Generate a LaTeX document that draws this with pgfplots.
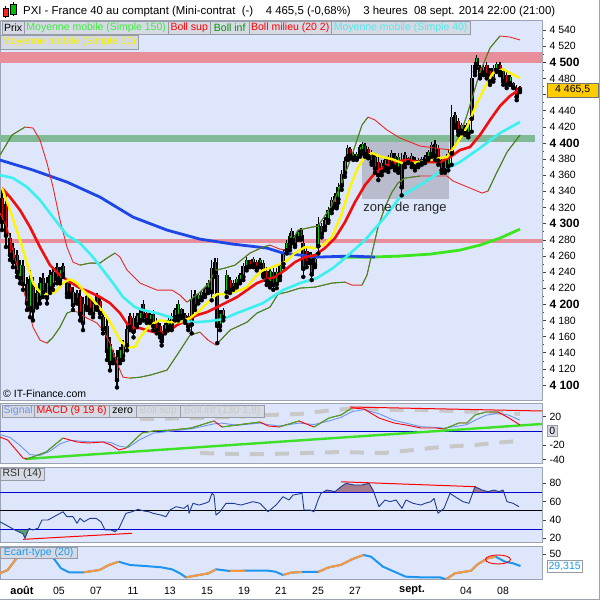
\documentclass[border=0pt]{standalone}
\usepackage{fontspec}
\setmainfont{Liberation Sans}
\usepackage{pgfplots}
\pgfplotsset{compat=1.18}
\usepackage{pgfplotstable}
\definecolor{bgblue}{RGB}{221,230,250}
\definecolor{pinkband}{RGB}{232,142,155}
\definecolor{greenband}{RGB}{128,186,150}
\definecolor{zonegray}{RGB}{184,188,204}
\definecolor{mablue}{RGB}{30,70,230}
\definecolor{magreen}{RGB}{60,230,30}
\definecolor{macyan}{RGB}{60,240,240}
\definecolor{mayellow}{RGB}{255,245,0}
\definecolor{mared}{RGB}{240,15,15}
\definecolor{bandred}{RGB}{235,40,40}
\definecolor{bandgreen}{RGB}{40,150,30}
\definecolor{cgreen}{RGB}{0,210,0}
\definecolor{cred}{RGB}{230,0,0}
\definecolor{frame}{RGB}{155,163,178}
\definecolor{sigblue}{RGB}{110,150,240}
\definecolor{rsiblue}{RGB}{30,60,150}
\definecolor{ecblue}{RGB}{30,150,240}
\definecolor{ecorange}{RGB}{250,150,60}
\definecolor{mauve}{RGB}{165,125,140}
\definecolor{rsigreen}{RGB}{95,160,110}
\definecolor{legfill}{RGB}{214,218,228}
\definecolor{legdraw}{RGB}{150,155,165}
\definecolor{gold}{RGB}{255,204,0}
\definecolor{dashgray}{RGB}{200,200,200}
\definecolor{trendgreen}{RGB}{60,225,40}
\definecolor{mgreen}{RGB}{40,190,40}

\pgfplotstableread{
x h l bt bb d
2 4342 4292 4332 4302 0
6 4338 4271 4324 4285 0
10 4288 4255 4282 4261 0
13 4276 4246 4270 4252 0
17 4267 4234 4261 4240 0
20 4255 4226 4249 4232 1
23 4255 4218 4247 4225 0
27 4234 4193 4225 4201 0
30 4242 4184 4231 4195 1
33 4234 4180 4222 4192 0
37 4218 4196 4214 4200 1
40 4234 4201 4227 4208 1
43 4239 4209 4232 4215 0
47 4234 4201 4227 4208 1
50 4242 4214 4236 4220 1
53 4246 4218 4240 4224 1
57 4251 4226 4246 4231 0
60 4246 4226 4242 4230 1
63 4251 4234 4247 4237 0
67 4230 4209 4226 4213 0
70 4226 4209 4222 4213 0
73 4221 4193 4215 4199 1
77 4218 4201 4214 4205 0
80 4218 4180 4210 4188 0
83 4209 4168 4200 4177 1
87 4214 4193 4210 4196 1
90 4209 4189 4205 4193 0
93 4205 4184 4201 4188 1
97 4214 4193 4210 4196 0
100 4209 4184 4204 4189 0
103 4189 4164 4184 4169 0
107 4184 4131 4173 4142 0
110 4159 4118 4151 4127 1
113 4143 4127 4140 4131 0
117 4143 4097 4135 4106 1
120 4147 4127 4143 4131 1
123 4156 4131 4151 4136 1
127 4177 4143 4170 4149 1
130 4189 4168 4185 4172 0
133.5 4189 4159 4183 4166 1
137 4189 4172 4185 4175 1
140 4193 4177 4189 4180 1
143.3 4205 4180 4200 4185 0
146.7 4193 4177 4189 4180 0
150 4189 4177 4187 4179 1
153.3 4193 4168 4188 4173 0
156.7 4183 4164 4179 4168 0
160 4177 4159 4173 4163 0
161.7 4172 4149 4167 4154 1
165 4177 4164 4174 4167 1
168.3 4184 4168 4180 4172 1
171.7 4189 4168 4185 4172 1
175 4196 4180 4193 4184 1
178.3 4205 4180 4200 4185 1
181.7 4196 4183 4194 4185 0
185 4189 4177 4187 4179 0
188.3 4189 4168 4185 4172 0
191.7 4218 4164 4206 4175 1
195 4218 4193 4213 4198 0
198.3 4214 4201 4211 4204 1
201.7 4218 4205 4215 4208 1
205 4221 4209 4219 4211 1
208.3 4230 4214 4226 4218 1
211.7 4255 4205 4245 4215 1
215 4257 4234 4252 4239 0
217.3 4257 4152 4236 4173 0
220 4193 4168 4188 4173 1
223.3 4196 4180 4193 4184 1
226.7 4242 4209 4236 4215 1
230 4234 4214 4230 4218 0
233.3 4230 4218 4227 4220 0
236.7 4234 4221 4231 4224 1
240 4239 4226 4236 4229 1
243.3 4251 4230 4247 4234 1
246.7 4259 4242 4255 4246 1
250 4255 4246 4254 4247 0
253.3 4259 4246 4256 4249 1
256.7 4255 4242 4252 4245 0
260 4257 4246 4255 4249 1
263.3 4255 4234 4251 4237 0
266.7 4246 4224 4241 4229 0
270 4246 4221 4241 4226 1
273.3 4246 4218 4240 4224 0
276.7 4245 4220 4240 4225 1
280 4251 4230 4247 4234 1
283.3 4267 4246 4263 4250 1
286.7 4280 4263 4276 4267 1
290 4288 4267 4285 4271 1
291.7 4294 4276 4291 4280 1
295 4286 4271 4283 4273 0
298.3 4292 4280 4290 4282 1
301 4294 4280 4292 4282 0
303.3 4286 4234 4276 4244 0
306.7 4271 4246 4266 4251 0
310 4265 4251 4262 4254 1
311.7 4265 4230 4257 4237 0
315 4259 4246 4256 4249 1
318.3 4308 4263 4299 4272 1
321.7 4301 4283 4297 4287 0
325 4308 4292 4304 4296 1
328.3 4320 4301 4317 4304 1
331.7 4333 4313 4329 4317 1
335 4338 4320 4334 4324 1
336.7 4333 4319 4330 4322 0
338.3 4350 4326 4345 4330 1
341.7 4366 4342 4361 4347 1
345 4383 4358 4378 4363 1
347.7 4397 4379 4394 4383 1
350 4395 4381 4392 4384 0
353.3 4389 4379 4386 4381 0
356.7 4389 4379 4386 4381 1
360 4397 4383 4395 4385 1
362.3 4401 4387 4399 4390 1
365 4400 4383 4396 4386 0
368.3 4395 4381 4392 4384 0
371.7 4391 4373 4387 4376 0
375 4387 4363 4383 4368 0
378.3 4383 4354 4376 4360 0
381.7 4379 4360 4375 4364 1
385 4383 4366 4379 4370 1
388.3 4385 4364 4381 4368 0
391.7 4391 4370 4387 4374 1
395 4387 4366 4384 4370 0
398.3 4387 4363 4383 4368 1
401.7 4387 4335 4378 4345 0
405 4389 4370 4385 4374 1
408.3 4383 4375 4381 4376 0
411.7 4387 4370 4384 4374 1
415 4383 4366 4379 4370 0
418.3 4381 4370 4379 4373 1
421.7 4383 4373 4380 4375 0
425 4385 4375 4383 4378 1
428.3 4391 4379 4389 4381 1
431.7 4401 4383 4397 4386 1
435 4404 4379 4399 4384 0
438.3 4397 4373 4392 4378 0
441.7 4383 4363 4379 4366 0
445 4383 4363 4379 4366 1
448.3 4391 4366 4386 4371 1
451.7 4447 4373 4432 4387 1
455 4438 4419 4435 4422 0
458.3 4431 4410 4427 4414 0
461.7 4425 4412 4422 4415 1
465 4422 4410 4420 4412 0
468.3 4428 4407 4425 4411 1
471.7 4497 4414 4480 4430 1
475 4500 4484 4497 4488 0
476.7 4509 4493 4505 4497 1
480 4497 4480 4493 4484 0
483.3 4497 4484 4494 4487 1
486.7 4500 4480 4497 4484 0
490 4493 4472 4489 4476 0
493.3 4497 4476 4493 4479 1
496.7 4500 4488 4498 4490 1
500 4500 4484 4497 4488 0
503.3 4493 4472 4489 4476 0
506.7 4488 4468 4484 4472 0
510 4484 4472 4482 4474 1
513.3 4476 4468 4474 4469 0
516.7 4472 4453 4468 4457 0
520 4470 4463 4469 4465.5 0
}\candles

\pgfplotsset{
  panel/.style={
    scale only axis, width=542pt, xmin=0, xmax=542,
    axis background/.style={fill=bgblue},
    axis line style={draw=frame, line width=0.8pt},
    xtick=\empty,
    yticklabel pos=right, ytick pos=right,
    tick align=outside, major tick length=4pt,
    tick style={draw=black!75, line width=0.5pt},
    yticklabel style={font=\fontsize{10.5}{12}\selectfont, anchor=west, text=black},
    clip=true,
  },
  candle/.style={only marks, mark=none, forget plot},
}
\tikzset{leg/.style={draw=legdraw, fill=legfill, inner sep=0pt, anchor=west, font=\fontsize{10.5}{12}\selectfont}}

\begin{document}
\begin{tikzpicture}[x=1pt,y=1pt]
\useasboundingbox (0,0) rectangle (600,600);
\fill[white] (0,0) rectangle (600,600);

% ================= MAIN PANEL =================
\begin{axis}[panel, at={(0pt,580pt)}, anchor=north west, height=380pt,
  ymin=4081.4, ymax=4552.4,
  ytick={4100,4120,...,4540},
  minor y tick num=1, minor tick length=2pt,
  yticklabels={{\fontsize{12}{14}\selectfont\bfseries 4 100},4 120,4 140,4 160,4 180,{\fontsize{12}{14}\selectfont\bfseries 4 200},4 220,4 240,4 260,4 280,{\fontsize{12}{14}\selectfont\bfseries 4 300},4 320,4 340,4 360,4 380,{\fontsize{12}{14}\selectfont\bfseries 4 400},4 420,4 440,{},4 480,{\fontsize{12}{14}\selectfont\bfseries 4 500},4 520,4 540},
]
\addplot[fill=pinkband, draw=none] coordinates {(0,4498.7) (542,4498.7) (542,4513.1) (0,4513.1)} -- cycle;
\addplot[fill=greenband, draw=none] coordinates {(0,4401.5) (535,4401.5) (535,4409.9) (0,4409.9)} -- cycle;
\addplot[fill=pinkband, draw=none] coordinates {(0,4275.6) (542,4275.6) (542,4280.6) (0,4280.6)} -- cycle;
\addplot[fill=zonegray, draw=none] coordinates {(362,4330.5) (449,4330.5) (449,4401.2) (362,4401.2)} -- cycle;

% candles: wicks, bodies, coloured cores
\addplot[candle, error bars/.cd, y dir=plus, y explicit, error mark=none,
  error bar style={draw=black, line width=1.4pt}]
  table[x=x, y=l, y error plus expr={\thisrow{h}-\thisrow{l}}] {\candles};
\addplot[candle, error bars/.cd, y dir=plus, y explicit, error mark=none,
  error bar style={draw=black, line width=4pt}]
  table[x=x, y=bb, y error plus expr={\thisrow{bt}-\thisrow{bb}}] {\candles};
\addplot[candle, restrict expr to domain={\thisrow{d}}{0.5:1.5}, error bars/.cd, y dir=plus, y explicit, error mark=none,
  error bar style={draw=cgreen, line width=0.9pt}]
  table[x=x, y=bb, y error plus expr={\thisrow{bt}-\thisrow{bb}}] {\candles};
\addplot[candle, restrict expr to domain={\thisrow{d}}{-0.5:0.5}, error bars/.cd, y dir=plus, y explicit, error mark=none,
  error bar style={draw=cred, line width=0.9pt}]
  table[x=x, y=bb, y error plus expr={\thisrow{bt}-\thisrow{bb}}] {\candles};

% MA 150 (green rising part, blue falling part)
\addplot[magreen, line width=2.8pt] coordinates {(340,4258.5) (370,4258.5) (400,4259.8) (430,4262.2) (460,4267.2) (480,4273.4) (500,4282.1) (520,4293.2)};
\addplot[mablue, line width=2.8pt, line join=round] coordinates {(0,4378.8) (33,4366.4) (67,4351.5) (100,4332.9) (133,4308.1) (167,4292.0) (200,4280.8) (233,4274.6) (267,4269.7) (283,4263.5) (317,4258.5) (350,4259.8) (375,4258.5)};

% Boll sup
\addplot[bandred, line width=0.9pt, line join=round] coordinates {(0,4385.0) (12,4409.8) (25,4419.7) (33,4418.5) (40,4403.6) (47,4375.1) (53,4345.3) (60,4304.4) (67,4270.9) (73,4252.3) (80,4248.6) (90,4251.1) (100,4251.1) (107,4257.3) (115,4263.5) (120,4258.5) (127,4242.4) (140,4226.3) (157,4217.6) (172,4217.6) (180,4211.4) (187,4202.7) (199,4213.9) (208,4225.0) (216,4242.4) (225,4244.9) (235,4248.6) (250,4263.5) (263,4270.9) (270,4273.4) (280,4268.4) (287,4267.2) (298,4292.0) (312,4295.7) (318,4297.0) (332,4323.0) (342,4350.3) (352,4385.0) (362,4422.2) (368,4432.1) (375,4428.4) (387,4416.0) (400,4406.1) (420,4396.2) (443,4392.4) (452,4391.2) (460,4409.8) (467,4434.6) (480,4487.9) (490,4517.7) (500,4532.6) (510,4531.3) (520,4527.6)};
\addplot[bandgreen, line width=0.9pt] coordinates {(0,4385.0) (12,4409.8) (25,4419.7)};
\addplot[bandgreen, line width=0.9pt] coordinates {(80,4248.6) (90,4251.1) (100,4251.1) (107,4257.3) (115,4263.5)};
\addplot[bandgreen, line width=0.9pt] coordinates {(187,4202.7) (199,4213.9) (208,4225.0) (216,4242.4) (225,4244.9) (235,4248.6) (250,4263.5) (263,4270.9) (270,4273.4)};
\addplot[bandgreen, line width=0.9pt] coordinates {(287,4267.2) (298,4292.0) (312,4295.7) (318,4297.0) (332,4323.0) (342,4350.3) (352,4385.0) (362,4422.2) (368,4432.1)};
\addplot[bandgreen, line width=0.9pt] coordinates {(452,4391.2) (460,4409.8) (467,4434.6) (480,4487.9) (490,4517.7) (500,4532.6)};

% Boll inf
\addplot[bandred, line width=0.9pt, line join=round] coordinates {(0,4313.1) (7,4295.7) (20,4233.7) (27,4201.5) (33,4171.7) (40,4155.6) (47,4151.9) (53,4159.3) (60,4171.7) (67,4189.1) (72,4191.6) (78,4190.3) (87,4182.9) (97,4176.7) (103,4168.0) (110,4151.9) (117,4127.1) (123,4109.7) (130,4108.5) (140,4109.7) (150,4112.2) (167,4118.4) (177,4137.0) (190,4161.8) (200,4165.5) (208,4155.6) (216,4149.4) (230,4168.0) (247,4177.9) (257,4189.1) (270,4196.5) (278,4212.6) (287,4215.1) (300,4220.1) (315,4221.3) (332,4226.3) (345,4227.5) (352,4223.8) (362,4223.8) (367,4236.2) (372,4263.5) (378,4295.7) (385,4320.5) (392,4339.1) (398,4350.3) (405,4356.5) (420,4359.0) (447,4359.0) (453,4352.8) (470,4344.1) (482,4337.9) (488,4340.4) (497,4364.0) (507,4388.7) (520,4409.8)};
\addplot[bandgreen, line width=0.9pt] coordinates {(47,4151.9) (53,4159.3) (60,4171.7) (67,4189.1) (72,4191.6)};
\addplot[bandgreen, line width=0.9pt] coordinates {(130,4108.5) (140,4109.7) (150,4112.2) (167,4118.4) (177,4137.0) (190,4161.8) (200,4165.5)};
\addplot[bandgreen, line width=0.9pt] coordinates {(216,4149.4) (230,4168.0) (247,4177.9) (257,4189.1) (270,4196.5) (278,4212.6) (287,4215.1) (300,4220.1) (315,4221.3) (332,4226.3) (345,4227.5)};
\addplot[bandgreen, line width=0.9pt] coordinates {(362,4223.8) (367,4236.2) (372,4263.5) (378,4295.7) (385,4320.5) (392,4339.1) (398,4350.3) (405,4356.5) (420,4359.0)};
\addplot[bandgreen, line width=0.9pt] coordinates {(488,4340.4) (497,4364.0) (507,4388.7) (520,4409.8)};

% Boll milieu (20 2)
\addplot[mared, line width=2.6pt, line join=round] coordinates {(2,4344.1) (10,4332.9) (20,4316.8) (30,4295.7) (40,4270.9) (50,4248.6) (60,4236.2) (70,4227.5) (80,4220.1) (90,4215.1) (100,4209.0) (110,4201.5) (120,4189.1) (128,4174.2) (135,4170.5) (140,4170.5) (150,4166.8) (160,4164.3) (167,4165.5) (177,4174.2) (187,4180.4) (197,4186.6) (207,4190.3) (217,4196.5) (227,4202.7) (237,4209.0) (247,4217.6) (257,4226.3) (267,4231.2) (275,4233.7) (285,4242.4) (295,4252.3) (305,4258.5) (315,4261.0) (325,4269.7) (335,4282.0) (345,4301.9) (355,4326.7) (365,4347.8) (375,4362.7) (385,4371.4) (395,4376.3) (405,4378.8) (420,4376.3) (440,4376.3) (450,4382.5) (460,4391.2) (470,4394.9) (480,4409.8) (490,4428.4) (500,4445.8) (510,4458.2) (520,4466.8)};

% MA 40
\addplot[macyan, line width=2.6pt, line join=round] coordinates {(0,4360.2) (13,4356.5) (27,4345.3) (40,4329.2) (53,4308.1) (67,4285.8) (80,4275.9) (93,4258.5) (103,4242.4) (113,4226.3) (123,4209.0) (135,4196.5) (143,4192.8) (157,4189.1) (170,4184.1) (183,4179.2) (197,4177.9) (210,4179.2) (223,4181.6) (237,4189.1) (250,4195.3) (263,4201.5) (275,4211.4) (283,4217.6) (300,4226.3) (317,4232.5) (333,4244.9) (345,4257.3) (365,4279.6) (385,4308.1) (400,4332.9) (420,4347.8) (440,4363.9) (460,4376.3) (480,4393.7) (500,4412.3) (520,4425.9)};

% MA 10
\addplot[mayellow, line width=2.4pt, line join=round] coordinates {(2,4344.1) (10,4316.8) (20,4279.6) (27,4251.1) (33,4226.3) (40,4215.1) (47,4212.6) (55,4215.1) (63,4226.3) (70,4231.2) (77,4226.3) (85,4215.1) (93,4205.2) (100,4195.3) (107,4184.1) (113,4171.7) (120,4155.6) (127,4146.9) (135,4146.9) (140,4159.3) (150,4174.2) (160,4180.4) (170,4177.9) (180,4177.9) (190,4182.9) (200,4192.8) (210,4205.2) (217,4212.6) (227,4212.6) (237,4216.4) (247,4221.3) (255,4233.7) (263,4242.4) (270,4244.9) (275,4247.4) (285,4252.3) (295,4263.5) (305,4270.9) (315,4269.7) (323,4273.4) (332,4283.3) (342,4313.1) (350,4345.3) (358,4370.1) (365,4382.5) (372,4387.5) (382,4382.5) (392,4380.0) (402,4375.1) (410,4375.1) (420,4376.3) (430,4378.8) (440,4381.3) (447,4382.5) (457,4399.9) (467,4419.7) (477,4449.5) (487,4474.3) (493,4486.7) (503,4491.6) (510,4486.7) (520,4480.5)};
\end{axis}

% ================= MACD PANEL =================
\begin{axis}[panel, at={(0pt,197pt)}, anchor=north west, height=60pt,
  ymin=-44.6, ymax=39.05, ytick={-40,-20,20}, yticklabels={-40,-20,20}]
\addplot[dashgray, line width=4pt, dash pattern=on 14pt off 11pt] coordinates {(140,16.7) (200,18.1) (230,19.5) (268,22.3) (300,23.7) (333,29.3) (360,32.1) (383,29.3) (421,29.3) (453,27.9) (478,26.5) (505,25.1) (520,23.7)};
\addplot[dashgray, line width=4pt, dash pattern=on 14pt off 11pt] coordinates {(200,-30.7) (237,-32.1) (268,-32.1) (306,-30.7) (341,-29.3) (383,-30.7) (413,-26.5) (440,-22.3) (475,-19.5) (505,-15.3) (520,-13.9)};
\addplot[blue!80!black, line width=0.8pt] coordinates {(0,0) (542,0)};
\addplot[trendgreen, line width=2.4pt] coordinates {(25,-39) (542,9.8)};
\addplot[red, line width=1pt] coordinates {(350,33.5) (542,27.9)};
\addplot[sigblue, line width=0.9pt] coordinates {(0,-5) (10,-9) (20,-20) (30,-33) (40,-34) (50,-28) (60,-18) (70,-13) (80,-14) (90,-15) (103,-15) (111,-16) (119,-21) (128,-23) (140,-12) (153,-3) (172,0) (191,3) (214,10) (222,11) (237,8) (260,11) (268,9) (279,7) (299,11) (314,9) (329,14) (341,19) (352,27) (364,30) (379,24) (394,15) (406,11) (421,6) (436,5) (444,4) (459,7) (467,9) (475,15) (486,22) (498,25) (509,22) (520,15)};
\addplot[red, line width=0.9pt] coordinates {(0,-8.4) (7.7,-12.6) (23,-37.7) (27,-39) (46,-29.3) (63,-9.8) (77,-15.3) (88,-16.7) (103,-15.3) (111,-19.5) (119,-26.5) (126,-23.7) (142,-2.8) (153,0) (172,1.4) (191,4.2) (214,14) (222,5.6) (237,8.4) (260,12.6) (268,7) (279,5.6) (299,14) (314,5.6) (329,18.1) (341,22.3) (352,32.1) (364,30.7) (379,18.1) (394,11.2) (406,8.4) (421,4.2) (436,4.2) (444,2.8) (459,11.2) (467,11.2) (475,22.3) (486,26.5) (498,26.5) (509,18.1) (520,8.4)};
\addplot[mgreen, line width=0.9pt] coordinates {(27,-39) (46,-29.3) (63,-9.8)};
\addplot[mgreen, line width=0.9pt] coordinates {(126,-23.7) (142,-2.8) (153,0) (172,1.4) (191,4.2) (214,14)};
\addplot[mgreen, line width=0.9pt] coordinates {(222,5.6) (237,8.4) (260,12.6)};
\addplot[mgreen, line width=0.9pt] coordinates {(279,5.6) (299,14)};
\addplot[mgreen, line width=0.9pt] coordinates {(314,5.6) (329,18.1) (341,22.3) (352,32.1)};
\addplot[mgreen, line width=0.9pt] coordinates {(444,2.8) (459,11.2) (467,11.2) (475,22.3) (486,26.5) (498,26.5)};
\end{axis}

% ================= RSI PANEL =================
\begin{axis}[panel, at={(0pt,133pt)}, anchor=north west, height=75pt,
  ymin=16, ymax=97.8, ytick={20,40,60,80}, yticklabels={20,40,60,80}]
\addplot[fill=rsigreen, draw=none] coordinates {(13,30) (15,29) (23,25) (25,20) (28.5,30)} -- cycle;
\addplot[fill=rsigreen, draw=none] coordinates {(104.5,30) (105,29.1) (111,29.1) (115,27.2) (118.2,30)} -- cycle;
\addplot[fill=mauve, draw=none] coordinates {(324,70) (327,72.7) (335,70.9) (341,76.3) (346,80) (354,78.2) (362,78.2) (369,80) (373,72.7) (374.5,70)} -- cycle;
\addplot[fill=mauve, draw=none] coordinates {(472,70) (475,76.3) (482,72.7) (488,70.9) (494,72.7) (499,70.9) (503,72.7) (505,70)} -- cycle;
\addplot[blue!85!black, line width=0.8pt] coordinates {(0,70) (542,70)};
\addplot[blue!85!black, line width=0.8pt] coordinates {(0,30) (542,30)};
\addplot[black, line width=0.8pt] coordinates {(0,50) (542,50)};
\addplot[rsiblue, line width=0.9pt, line join=round] coordinates {(0,38) (7.7,33.5) (15,29) (23,25) (25,20) (29,30.9) (32.5,29.1) (38,30.9) (42,40) (48,40) (54,43.6) (57,45.4) (63,49) (67,43.6) (73,43.6) (77,36.4) (80,41.8) (84,38.1) (90,41.8) (96,41.8) (101,38.1) (105,29.1) (111,29.1) (115,27.2) (119,30.9) (122,38.1) (126,47.3) (132,49) (138,51.6) (144,49.8) (149,49) (153,47.3) (161,45.4) (166,43.6) (170,50.9) (176,54.5) (184,52.7) (188,56.3) (189,47.3) (193,58.2) (199,56.3) (205,58.2) (209,60) (212,69.1) (214,67.2) (216,45.4) (220,49) (226,58.2) (233,58.2) (241,56.3) (253,60) (260,58.2) (268,49) (276,56.3) (283,65.4) (289,61.8) (293,67.2) (302,69.1) (304,50.9) (310,50.9) (314,49) (318,61.8) (321,69.1) (327,72.7) (335,70.9) (341,76.3) (346,80) (354,78.2) (362,78.2) (369,80) (373,72.7) (379,54.5) (385,61.8) (390,60) (396,61.8) (402,52.7) (406,61.8) (413,58.2) (421,56.3) (425,58.2) (431,60) (434,63.6) (438,47.3) (444,52.7) (450,69.1) (455,65.4) (463,60) (469,58.2) (475,76.3) (482,72.7) (488,70.9) (494,72.7) (499,70.9) (503,72.7) (507,60) (513,58.2) (519,54.5)};
\addplot[red, line width=1pt] coordinates {(23,18.9) (132,25.5)};
\addplot[red, line width=1pt] coordinates {(341,81.7) (476,76.3)};
\end{axis}

% ================= ECART-TYPE PANEL =================
\begin{axis}[panel, at={(0pt,54pt)}, anchor=north west, height=33pt,
  ymin=7.4, ymax=64.3, ytick={50}, yticklabels={50}]
\addplot[ecblue, line width=2pt, line join=round] coordinates {(0,17.2) (7.7,22.9) (15.3,40.2) (21,51.7) (35,57) (45,52.5) (53.6,43.1) (61,25.9) (69,19) (84,19) (99.5,22.9) (109,31.6) (118.6,37.2) (130,31.6) (145,29.8) (161,27.6) (172,24.1) (180,17.2) (186,10.3) (199,14.3) (208.6,17.2) (216,24.1) (230,21.2) (245,21.7) (268,21.7) (275.5,20) (283,14.3) (291,18.3) (302,19.5) (318,19.5) (329,27.6) (340.6,31.6) (352,41.4) (363.6,48.8) (371,45.9) (383,28.6) (398,17.2) (405.7,11.4) (421,10.3) (440,10.3) (446,6.9) (455,17.2) (465,20) (471,21.7) (478,33.3) (488,43.1) (495.6,45.9) (505,37.2) (513,34.5) (520.5,29.8)};
\addplot[ecorange, line width=2pt] coordinates {(0,17.2) (7.7,22.9) (15.3,40.2) (21,51.7) (35,57)};
\addplot[ecorange, line width=2pt] coordinates {(84,19) (99.5,22.9) (109,31.6) (118.6,37.2)};
\addplot[ecorange, line width=2pt] coordinates {(186,10.3) (199,14.3) (208.6,17.2) (216,24.1)};
\addplot[ecorange, line width=2pt] coordinates {(230,21.2) (245,21.7)};
\addplot[ecorange, line width=2pt] coordinates {(283,14.3) (291,18.3) (302,19.5)};
\addplot[ecorange, line width=2pt] coordinates {(318,19.5) (329,27.6) (340.6,31.6) (352,41.4) (363.6,48.8)};
\addplot[ecorange, line width=2pt] coordinates {(446,6.9) (455,17.2) (465,20) (471,21.7) (478,33.3) (488,43.1) (495.6,45.9)};
\end{axis}
\draw[red, line width=0.9pt] (498,40.5) ellipse (12.5pt and 4.5pt);

% ================= TEXT & BOXES =================
% title icon
\draw[black, line width=0.5pt] (5.7,582) -- (5.7,593.5);
\draw[black, fill=red!85, line width=0.5pt] (3,583.3) rectangle (8.4,591.7);
\draw[black, line width=0.5pt] (13.3,584) -- (13.3,598);
\draw[black, fill=green!75!black, line width=0.5pt] (10.7,586) rectangle (16,596);
\node[anchor=west, inner sep=0pt, font=\fontsize{11.4}{13}\selectfont] at (23,588.3) {PXI - France 40 au comptant (Mini-contrat\ \ (-)\ \ \ \ 4 465,5 (-0,68\%)\ \ \ \ 3 heures\ \ 08 sept. 2014 22:00 (21:00)};

% legends main
\node[leg, minimum width=22pt, minimum height=13pt] at (2,572.5) {Prix};
\node[leg, minimum width=144pt, minimum height=13pt, text={rgb,255:red,60;green,235;blue,60}] at (24,572.5) {Moyenne mobile (Simple 150)};
\node[leg, minimum width=42pt, minimum height=13pt, text=red] at (168,572.5) {Boll sup};
\node[leg, minimum width=39pt, minimum height=13pt, text={rgb,255:red,0;green,150;blue,0}] at (210,572.5) {Boll inf};
\node[leg, minimum width=82pt, minimum height=13pt, text=red] at (249,572.5) {Boll milieu (20 2)};
\node[leg, minimum width=139pt, minimum height=13pt, text={rgb,255:red,80;green,235;blue,235}] at (331,572.5) {Moyenne mobile (Simple 40)};
\node[leg, minimum width=138pt, minimum height=14pt, text={rgb,255:red,245;green,240;blue,0}] at (0,558) {Moyenne mobile (Simple 10)};

\node[anchor=west, inner sep=0pt, font=\fontsize{10.5}{12}\selectfont] at (3,206) {\textcopyright\ IT-Finance.com};
\node[inner sep=0pt, font=\fontsize{13}{15}\selectfont, text=black!85] at (405,392) {zone de range};

% legends MACD
\node[leg, minimum width=32pt, minimum height=12pt, text=sigblue] at (2,189) {Signal};
\node[leg, minimum width=75pt, minimum height=12pt, text=red] at (34,189) {MACD (9 19 6)};
\node[leg, minimum width=27pt, minimum height=12pt] at (109,189) {zero};
\node[leg, minimum width=44pt, minimum height=12pt, text=dashgray] at (136,189) {Boll sup};
\node[leg, minimum width=84pt, minimum height=12pt, text=dashgray] at (180,189) {Boll inf (130 1,8)};

% legends RSI / Ecart
\node[leg, minimum width=44pt, minimum height=12pt, text=black!80] at (0,126) {RSI (14)};
\node[leg, minimum width=77pt, minimum height=11pt, text=ecblue] at (0,47.5) {Ecart-type (20)};

% right-side value boxes
\node[draw=black!55, fill=gold, inner sep=0pt, minimum width=51pt, minimum height=13.5pt, anchor=west, font=\fontsize{10.5}{12}\selectfont] at (547,510) {4 465,5};
\node[draw=legdraw, fill=legfill, inner sep=0pt, minimum width=10pt, minimum height=11pt, anchor=west, font=\fontsize{10.5}{12}\selectfont] at (547,169) {0};
\node[draw=legdraw, fill=white, inner sep=0pt, minimum width=35pt, minimum height=12.5pt, anchor=west, font=\fontsize{10.5}{12}\selectfont, text=ecblue] at (547,33.7) {29,315};

% x labels
\foreach \p/\t in {59/05,96/07,133/11,170/13,207/15,244/19,281/21,318/25,355/27,466/04,503/08}
  \node[font=\fontsize{10.5}{12}\selectfont] at (\p,9.5) {\t};
\node[font=\fontsize{11}{13}\selectfont\bfseries] at (22,9.5) {août};
\node[font=\fontsize{11}{13}\selectfont\bfseries] at (412,9.5) {sept.};

% outer frame
\draw[frame, line width=0.8pt] (599.6,0) -- (599.6,600);
\draw[frame, line width=0.8pt] (0,0.4) -- (600,0.4);
\end{tikzpicture}
\end{document}
